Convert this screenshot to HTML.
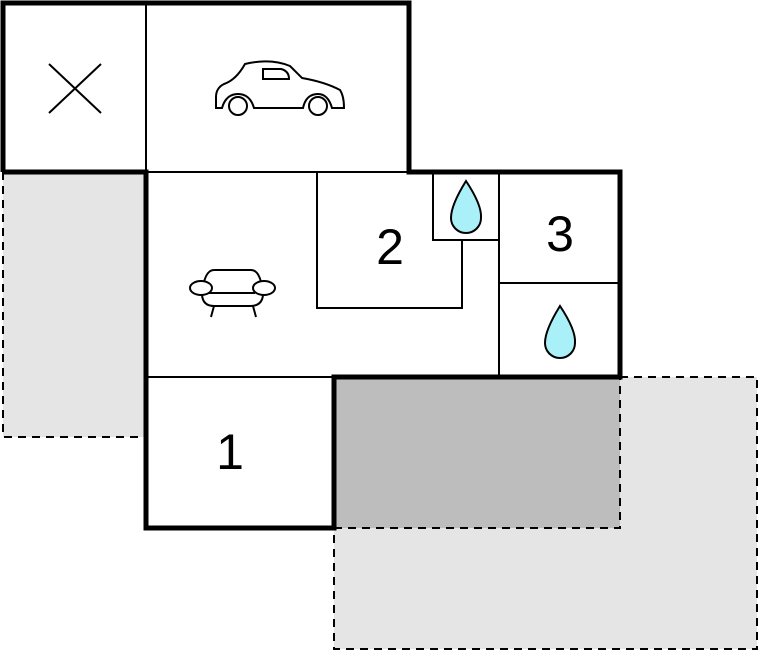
<!DOCTYPE html>
<html><head><style>body{margin:0;background:#fff}svg{display:block}</style></head><body>
<svg width="759" height="652" viewBox="0 0 759 652" xmlns="http://www.w3.org/2000/svg">
<rect x="3" y="172" width="143" height="265" fill="#e5e5e5"/>
<rect x="334" y="377" width="423" height="272" fill="#e5e5e5"/>
<rect x="334" y="377" width="286" height="151" fill="#bdbdbd"/>
<g fill="none" stroke="#000" stroke-width="2" stroke-dasharray="8,6">
<path d="M3 172V437H146"/>
<path d="M620 377H757V649H334V528"/>
<path d="M334 528H620V377"/>
</g>
<g fill="none" stroke="#000" stroke-width="2">
<path d="M146 3V172M146 172H409M146 377H334M317 172V308H462V240M433 172V240H499M499 172V377M499 283H620"/>
<path d="M49 64L101 113M101 64L49 113"/>
</g>
<g fill="none" stroke="#000" stroke-width="5">
<path d="M3 172V3H409V172H620V377H334V528H146V172H3"/>
</g>
<!-- car -->
<g fill="#fff" stroke="#000" stroke-width="2">
<path d="M216 108V97Q216 88 224 84Q236 80 245 64Q270 58 290 66L302 78Q325 82 340 90Q344 96 344 108H332Q328 94 318 94Q306 94 303 108H254Q250 94 238 94Q226 94 222 108Z"/>
<circle cx="238" cy="106" r="9"/><circle cx="318" cy="106" r="9"/>
<path d="M263 69H281Q289 71 289 79H263Z"/>
</g>
<!-- chair -->
<g fill="#fff" stroke="#000" stroke-width="2">
<path d="M202 295Q204 270 214 270H251Q261 270 263 295Q262 306 250 306H214Q203 306 202 295Z"/>
<line x1="209" y1="293" x2="255" y2="293"/>
<ellipse cx="201" cy="288" rx="11" ry="7"/><ellipse cx="264" cy="288" rx="11" ry="7"/>
<path d="M214 306L211 317M253 306L256 317"/>
</g>
<!-- drops -->
<g fill="#aaf0f8" stroke="#000" stroke-width="2">
<path d="M466 181Q482 205 481 218A15 15 0 0 1 451 218Q451 205 466 181Z"/>
<path d="M560 306Q576 330 575 343A15 15 0 0 1 545 343Q545 330 560 306Z"/>
</g>
<g font-family="Liberation Sans, sans-serif" font-size="50" text-anchor="middle" fill="#000">
<text x="390" y="264">2</text>
<text x="560" y="251">3</text>
<text x="230" y="469">1</text>
</g>
</svg>
</body></html>
